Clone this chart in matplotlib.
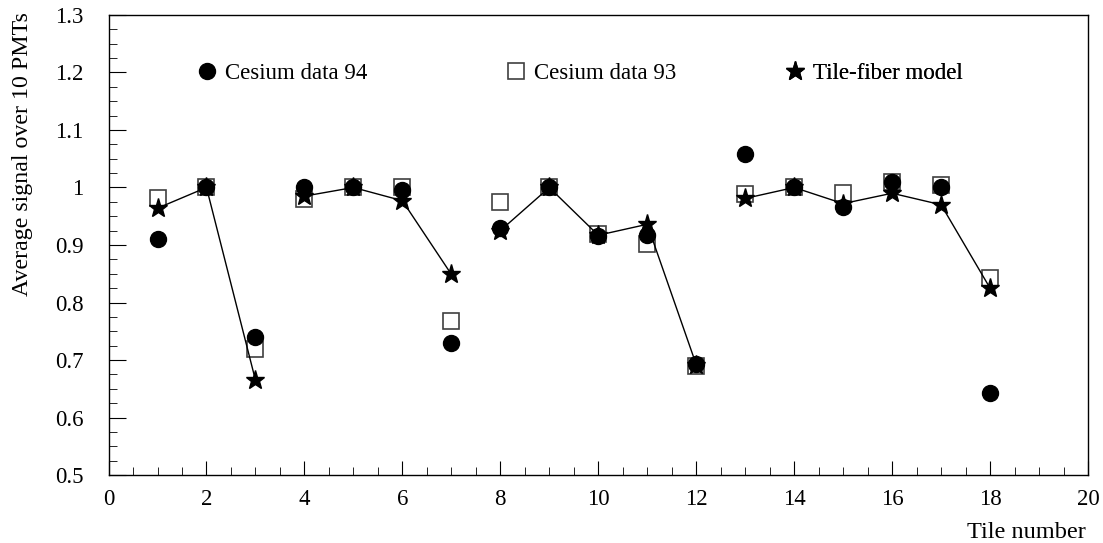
import numpy as np
import matplotlib
matplotlib.use("Agg")
import matplotlib.pyplot as plt
from matplotlib.ticker import MultipleLocator

plt.rcParams['font.family'] = ['Liberation Serif', 'DejaVu Serif']

tiles = [1, 2, 3, 4, 5, 6, 7, 8, 9, 10, 11, 12, 13, 14, 15, 16, 17, 18]
cesium94 = [0.910, 1.0, 0.740, 1.0, 1.0, 0.996, 0.729, 0.930, 1.0, 0.915,
            0.917, 0.693, 1.059, 1.0, 0.966, 1.010, 1.0, 0.643]
cesium93 = [0.981, 1.0, 0.719, 0.980, 1.0, 1.0, 0.768, 0.975, 1.0, 0.919,
            0.901, 0.690, 0.988, 1.0, 0.991, 1.010, 1.005, 0.843]
model = [0.964, 1.0, 0.665, 0.985, 1.0, 0.977, 0.849, 0.925, 1.0, 0.917,
         0.936, 0.692, 0.981, 1.0, 0.972, 0.990, 0.970, 0.825]
# the model line is drawn per group of tiles
groups = [[1, 2, 3], [4, 5, 6, 7], [8, 9, 10, 11, 12], [13, 14, 15, 16, 17, 18]]
labels = ['Cesium data 94', 'Cesium data 93', 'Tile-fiber model']

fig = plt.figure(figsize=(11.03, 5.43), dpi=100)
ax = fig.add_axes([0.0984, 0.1252, 0.888, 0.8472])

for g in groups:
    idx = [tiles.index(t) for t in g]
    ax.plot(g, [model[i] for i in idx], color='black', lw=1.0, zorder=2)

sq, = ax.plot(tiles, cesium93, ls='none', marker='s', ms=12, mfc='white',
              mec='#404040', mew=1.2, zorder=1)
st, = ax.plot(tiles, model, ls='none', marker='*', ms=14, color='black', zorder=3)
ci, = ax.plot(tiles, cesium94, ls='none', marker='o', ms=11.5, color='black', zorder=4)

# one legend per entry, spread across the top
for h, lab, x0 in zip([ci, sq, st], labels, [0.0888, 0.4043, 0.6891]):
    leg = ax.legend([h], [lab], frameon=False, loc='center left',
                    bbox_to_anchor=(x0, 0.872), fontsize=16.5, handletextpad=0.3,
                    handlelength=1.0, borderpad=0, borderaxespad=0)
    ax.add_artist(leg)

ax.set_xlim(0, 20)
ax.set_ylim(0.5, 1.3)
ax.xaxis.set_major_locator(MultipleLocator(2))
ax.xaxis.set_minor_locator(MultipleLocator(0.5))
ax.yaxis.set_minor_locator(MultipleLocator(0.025))
ax.set_yticks(np.arange(0.5, 1.31, 0.1))
ax.set_yticklabels(['0.5', '0.6', '0.7', '0.8', '0.9', '1', '1.1', '1.2', '1.3'])
ax.tick_params(which='both', direction='in', top=False, right=False, labelsize=16.5)
ax.tick_params(axis='y', which='major', length=12, pad=18)
ax.tick_params(axis='y', which='minor', length=6)
ax.tick_params(axis='x', which='major', length=10, pad=10)
ax.tick_params(axis='x', which='minor', length=5.5)
for s in ax.spines.values():
    s.set_linewidth(1.0)

fig.text(0.9846, 0.0092, 'Tile number', ha='right', va='baseline', fontsize=17.5)
fig.text(0.011, 0.978, 'Average signal over 10 PMTs', ha='left', va='top',
         rotation=90, fontsize=17.2)

fig.savefig('out.png', dpi=100)
